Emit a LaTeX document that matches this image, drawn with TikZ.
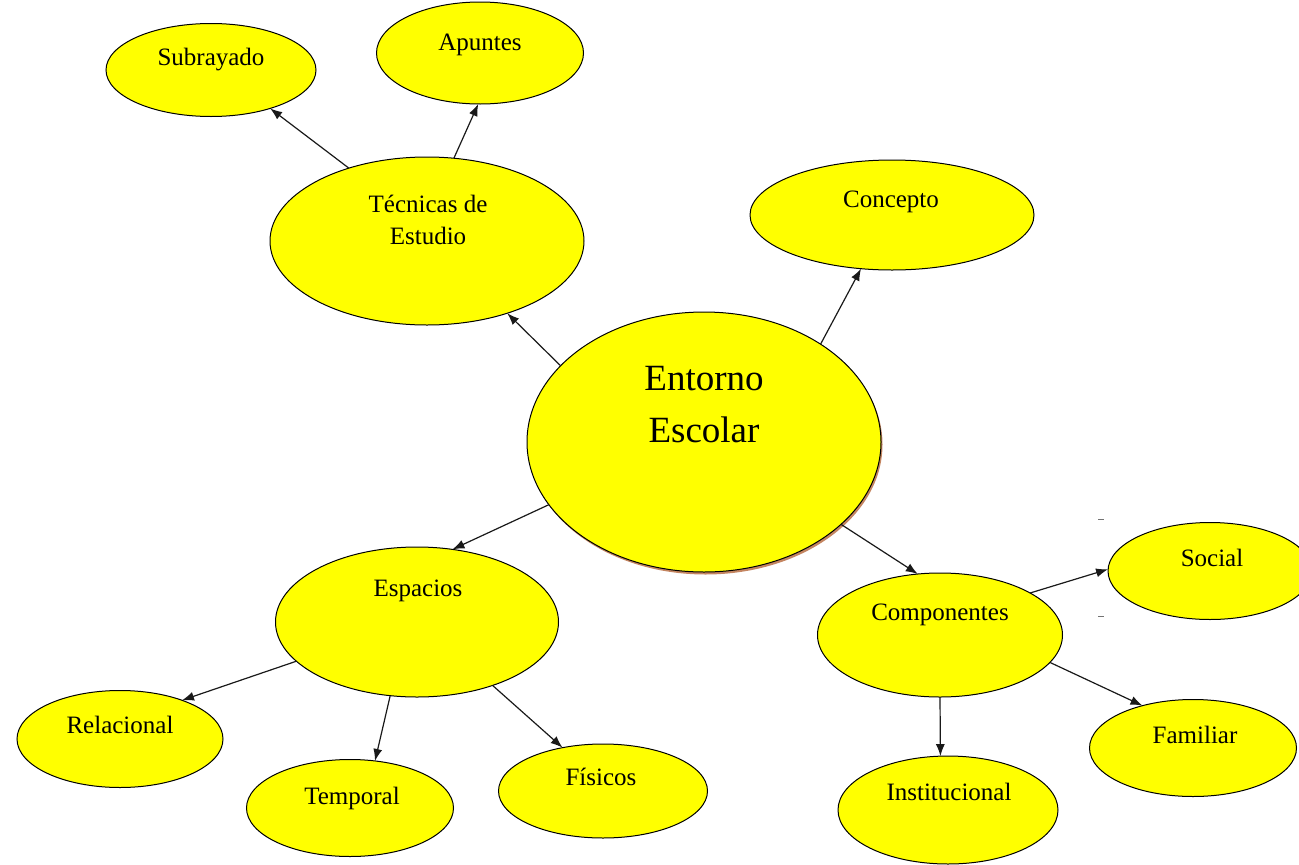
\documentclass[tikz,border=0pt]{standalone}
\usepackage{fontspec}
\setmainfont{Liberation Serif}
\usetikzlibrary{shapes.geometric,arrows.meta,shadows}
\definecolor{shadowbrown}{RGB}{190,120,80}
\definecolor{bubyellow}{RGB}{255,255,0}
\begin{document}
\begin{tikzpicture}[x=1pt,y=-1pt,
  bub/.style={ellipse,draw=black,line width=1pt,fill=bubyellow,inner sep=0pt,outer sep=0pt},
  lbl/.style={anchor=base,inner sep=0pt,align=center,font=\fontsize{25}{32}\selectfont},
  biglbl/.style={anchor=base,inner sep=0pt,align=center,font=\fontsize{37}{52}\selectfont},
  conn/.style={line width=1.2pt,draw=black!90,-{Latex[length=12pt,width=9pt]}},
  tickmark/.style={line width=0.8pt,draw=black!55}]
\clip (0,0) rectangle (1299,865);
% bubbles
\node[bub,minimum width=210pt,minimum height=93pt] (sub) at (211,70) {};
\node[bub,minimum width=207pt,minimum height=102pt] (apu) at (480,53) {};
\node[bub,minimum width=314pt,minimum height=168pt] (tec) at (427,241) {};
\node[bub,minimum width=284pt,minimum height=110pt] (con) at (892,215) {};
\node[bub,minimum width=354pt,minimum height=260pt,
      drop shadow={shadow xshift=1.5pt,shadow yshift=-2.5pt,fill=shadowbrown,opacity=0.9}] (ent) at (704,442) {};
\node[bub,minimum width=283pt,minimum height=150pt] (esp) at (417,622) {};
\node[bub,minimum width=245pt,minimum height=124pt] (com) at (940,635) {};
\node[bub,minimum width=204pt,minimum height=97pt] (soc) at (1210,571) {};
\node[bub,minimum width=206pt,minimum height=97pt] (rel) at (120,739) {};
\node[bub,minimum width=207pt,minimum height=97pt] (tem) at (350,808) {};
\node[bub,minimum width=209pt,minimum height=94pt] (fis) at (603,791) {};
\node[bub,minimum width=207pt,minimum height=97pt] (fam) at (1193,748) {};
\node[bub,minimum width=220pt,minimum height=108pt] (ins) at (948,810) {};
% labels (anchor=base is the baseline of the last line)
\node[lbl] (subt) at (211,65) {Subrayado};
\node[lbl] (aput) at (480,50) {Apuntes};
\node[lbl] (tect) at (428,244) {Técnicas de\\Estudio};
\node[lbl] (cont) at (891,207) {Concepto};
\node[biglbl] (entt) at (704,442) {Entorno\\Escolar};
\node[lbl] (espt) at (418,596) {Espacios};
\node[lbl] (comt) at (940,620) {Componentes};
\node[lbl] (soct) at (1212,566) {Social};
\node[lbl] (relt) at (120,733) {Relacional};
\node[lbl] (temt) at (352,804) {Temporal};
\node[lbl] (fist) at (601,785) {Físicos};
\node[lbl] (famt) at (1195,743) {Familiar};
\node[lbl] (inst) at (949,800) {Institucional};
% connectors
\draw[conn] (tec.137) -- (sub.-33);
\draw[conn] (tec.72) -- (apu.-92);
\draw[conn] (ent.152) -- (tec.-42);
\draw[conn] (ent.40) -- (con.-120);
\draw[conn] (ent.202) -- (esp.64);
\draw[conn] (ent.-31) -- (com.110);
\draw[conn] (esp.198) -- (rel.32);
\draw[conn] (esp.250) -- (tem.62);
\draw[conn] (esp.-40) -- (fis.133);
\draw[conn] (com.25) -- (soc.179);
\draw[conn] (com.-90) -- (ins.98);
\draw[conn] (com.-14) -- (fam.140);
% small marks
\draw[tickmark] (1098,519) -- (1104,519);
\draw[tickmark] (1098,616) -- (1104,616);
\end{tikzpicture}
\end{document}
